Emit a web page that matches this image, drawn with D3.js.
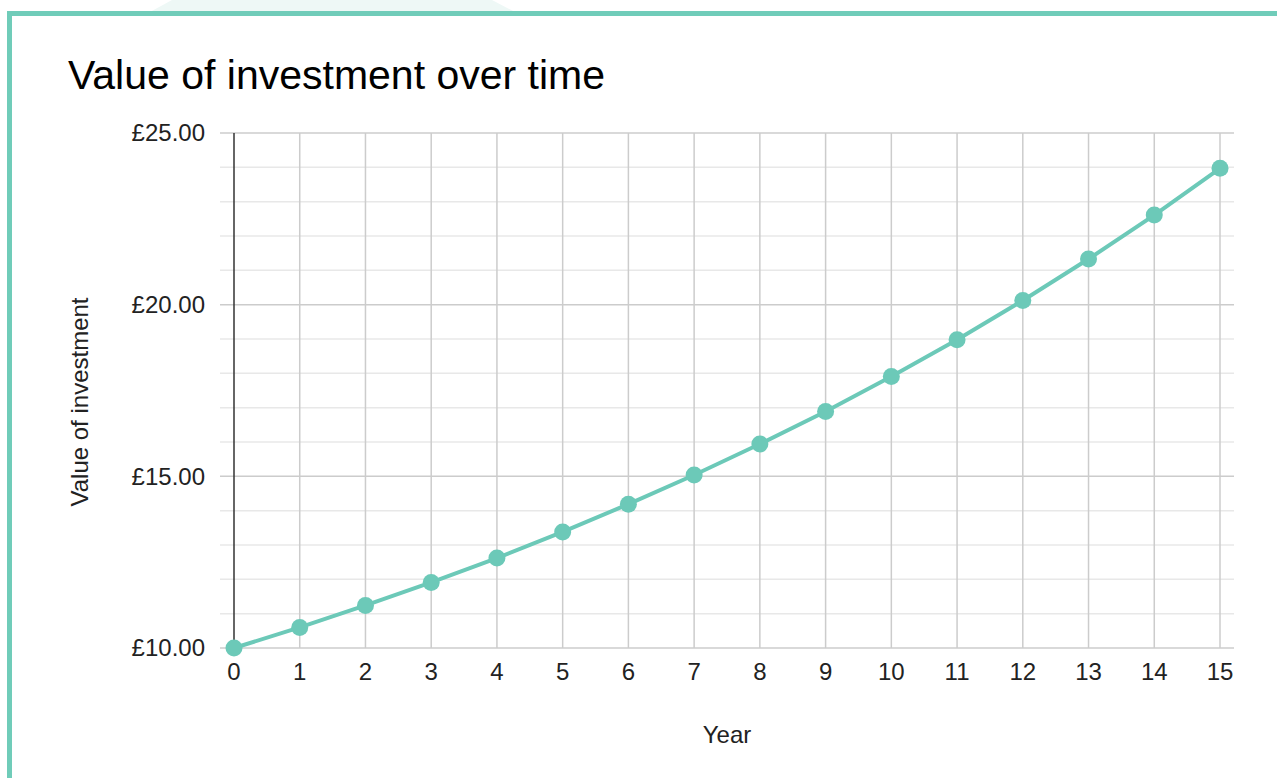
<!DOCTYPE html>
<html>
<head>
<meta charset="utf-8">
<script src="https://cdn.jsdelivr.net/npm/d3@7"></script>
<style>
  html, body { margin: 0; padding: 0; background: #fff; }
  svg { display: block; font-family: "Liberation Sans", Arial, sans-serif; }
</style>
</head>
<body>
<div id="chart"></div>
<script>
// Data
const years = [0, 1, 2, 3, 4, 5, 6, 7, 8, 9, 10, 11, 12, 13, 14, 15];
const values = [10.00, 10.60, 11.24, 11.91, 12.62, 13.38, 14.19, 15.04, 15.94, 16.89, 17.91, 18.98, 20.12, 21.33, 22.61, 23.97];
const yTicks = [10, 15, 20, 25];
const yMinorTicks = d3.range(10, 25.01, 1);

const W = 1277, H = 778;
const teal = "#6cc9b8";

const svg = d3.select("#chart").append("svg")
    .attr("width", W)
    .attr("height", H);

// faint tab shape behind the frame top
svg.append("path")
    .attr("d", "M150,12 L172,0 L492,0 L515,12 Z")
    .attr("fill", "#eef8f6");

// frame (left + top borders)
svg.append("path")
    .attr("d", `M9.5,${H} L9.5,13.5 L${W},13.5`)
    .attr("fill", "none")
    .attr("stroke", "#70ccb9")
    .attr("stroke-width", 5);

// Scales
const x = d3.scaleLinear().domain([0, 15]).range([234, 1220]);
const y = d3.scaleLinear().domain([10, 25]).range([648, 133]);
const gridLeft = 220, gridRight = 1234;

// minor horizontal grid
svg.append("g").selectAll("line")
    .data(yMinorTicks.filter(v => !yTicks.includes(v)))
    .join("line")
    .attr("x1", gridLeft).attr("x2", gridRight)
    .attr("y1", d => y(d)).attr("y2", d => y(d))
    .attr("stroke", "#e8e8e8")
    .attr("stroke-width", 1.5);

// vertical grid
svg.append("g").selectAll("line")
    .data(years.slice(1))
    .join("line")
    .attr("x1", d => x(d)).attr("x2", d => x(d))
    .attr("y1", y(25)).attr("y2", y(10))
    .attr("stroke", "#cccccc")
    .attr("stroke-width", 1.5);

// major horizontal grid
svg.append("g").selectAll("line")
    .data(yTicks)
    .join("line")
    .attr("x1", gridLeft).attr("x2", gridRight)
    .attr("y1", d => y(d)).attr("y2", d => y(d))
    .attr("stroke", "#cccccc")
    .attr("stroke-width", 1.5);

// y axis line
svg.append("line")
    .attr("x1", x(0)).attr("x2", x(0))
    .attr("y1", y(25)).attr("y2", y(10))
    .attr("stroke", "#333")
    .attr("stroke-width", 1.5);

// y tick labels
svg.append("g").selectAll("text")
    .data(yTicks)
    .join("text")
    .attr("x", 205)
    .attr("y", d => y(d))
    .attr("dy", "0.35em")
    .attr("text-anchor", "end")
    .attr("font-size", 24)
    .attr("fill", "#222")
    .text(d => "£" + d3.format(".2f")(d));

// x tick labels
svg.append("g").selectAll("text")
    .data(years)
    .join("text")
    .attr("x", d => x(d))
    .attr("y", 672)
    .attr("dy", "0.35em")
    .attr("text-anchor", "middle")
    .attr("font-size", 24)
    .attr("fill", "#222")
    .text(d => d);

// line + points
const line = d3.line()
    .x((d, i) => x(years[i]))
    .y(d => y(d));

svg.append("path")
    .datum(values)
    .attr("d", line)
    .attr("fill", "none")
    .attr("stroke", teal)
    .attr("stroke-width", 4);

svg.append("g").selectAll("circle")
    .data(values)
    .join("circle")
    .attr("cx", (d, i) => x(years[i]))
    .attr("cy", d => y(d))
    .attr("r", 8.5)
    .attr("fill", teal);

// titles
svg.append("text")
    .attr("x", 68)
    .attr("y", 89)
    .attr("font-size", 41)
    .attr("fill", "#000")
    .text("Value of investment over time");

svg.append("text")
    .attr("x", 727)
    .attr("y", 735)
    .attr("dy", "0.35em")
    .attr("text-anchor", "middle")
    .attr("font-size", 24)
    .attr("fill", "#222")
    .text("Year");

svg.append("text")
    .attr("transform", "translate(80, 402) rotate(-90)")
    .attr("dy", "0.35em")
    .attr("text-anchor", "middle")
    .attr("font-size", 24)
    .attr("fill", "#222")
    .text("Value of investment");
</script>
</body>
</html>
